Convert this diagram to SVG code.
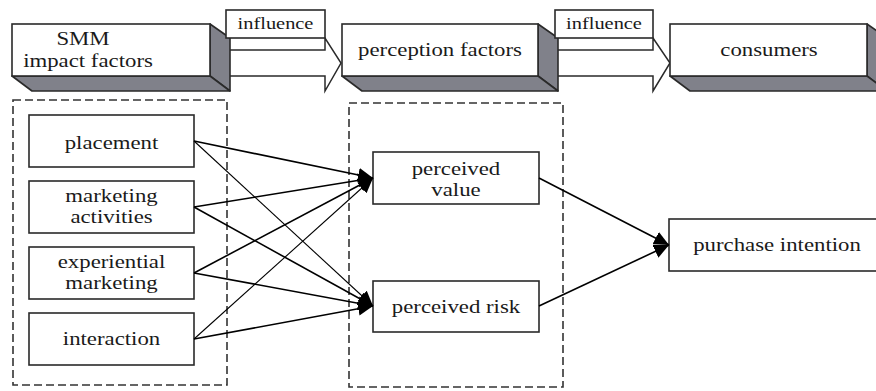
<svg xmlns="http://www.w3.org/2000/svg" width="876" height="391" viewBox="0 0 876 391">
<style>
.t{font-size:19px;fill:#1a1a1a;text-anchor:middle}
.ti{font-size:17px;fill:#1a1a1a;text-anchor:middle}
.box{fill:#fff;stroke:#2a2a2a;stroke-width:1.6}
.side{fill:#80818a;stroke:#2a2a2a;stroke-width:1.6;stroke-linejoin:round}
.arr{fill:#fff;stroke:#2a2a2a;stroke-width:1.5}
.dash{fill:none;stroke:#333;stroke-width:1.6;stroke-dasharray:8 4}
.c{stroke:#000;fill:none;marker-end:url(#ah)}
.k{stroke-width:1.6}
.n{stroke-width:1.1}
</style>
<defs>
<marker id="ah" markerUnits="userSpaceOnUse" markerWidth="16" markerHeight="14" refX="15" refY="7" orient="auto">
<path d="M0,0 L15,7 L0,14 z" fill="#000"/>
</marker>
</defs>
<rect width="876" height="391" fill="#fff"/>

<g id="flow-arrows">
<path class="arr" d="M230,50 L325,50 L325,38 L341,63 L325,91 L325,76 L230,76"/>
<path class="arr" d="M558,50 L653,50 L653,38 L670,63 L653,91 L653,76 L558,76"/>
</g>

<g font-family="Liberation Serif, DejaVu Serif, serif">
<g id="smm">
<polygon class="side" points="210,24 230,38 230,91 210,76"/>
<polygon class="side" points="12,76 210,76 230,91 32,91"/>
<rect class="box" x="12" y="24" width="198" height="52"/>
<text class="t" transform="translate(83,45) scale(1.2,1)">SMM</text>
<text class="t" transform="translate(88,67) scale(1.2,1)">impact factors</text>
</g>

<g id="influence1">
<rect class="box" x="226" y="10" width="99" height="28"/>
<text class="ti" transform="translate(275.5,29) scale(1.2,1)">influence</text>
</g>

<g id="perception">
<polygon class="side" points="538,24 558,38 558,91 538,76"/>
<polygon class="side" points="342,76 538,76 558,91 362,91"/>
<rect class="box" x="342" y="24" width="196" height="52"/>
<text class="t" transform="translate(440,56) scale(1.2,1)">perception factors</text>
</g>

<g id="influence2">
<rect class="box" x="555" y="10" width="98" height="28"/>
<text class="ti" transform="translate(604,29) scale(1.2,1)">influence</text>
</g>

<g id="consumers">
<polygon class="side" points="867,24 887,38 887,91 867,76"/>
<polygon class="side" points="670,76 867,76 887,91 690,91"/>
<rect class="box" x="670" y="24" width="197" height="52"/>
<text class="t" transform="translate(769,56) scale(1.2,1)">consumers</text>
</g>

<g id="group-smm">
<rect class="dash" x="13" y="100" width="214" height="285"/>
</g>
<g id="group-perception">
<rect class="dash" x="349" y="103" width="214" height="284"/>
</g>

<g id="placement">
<rect class="box" x="29" y="115" width="165" height="52"/>
<text class="t" transform="translate(111.5,149) scale(1.2,1)">placement</text>
</g>
<g id="marketing-activities">
<rect class="box" x="29" y="181" width="165" height="52"/>
<text class="t" transform="translate(111.5,202) scale(1.2,1)">marketing</text>
<text class="t" transform="translate(111.5,223) scale(1.2,1)">activities</text>
</g>
<g id="experiential-marketing">
<rect class="box" x="29" y="247" width="165" height="52"/>
<text class="t" transform="translate(111.5,268) scale(1.2,1)">experiential</text>
<text class="t" transform="translate(111.5,289) scale(1.2,1)">marketing</text>
</g>
<g id="interaction">
<rect class="box" x="29" y="313" width="165" height="52"/>
<text class="t" transform="translate(111.5,345) scale(1.2,1)">interaction</text>
</g>

<g id="perceived-value">
<rect class="box" x="373" y="152" width="166" height="52"/>
<text class="t" transform="translate(456,175) scale(1.2,1)">perceived</text>
<text class="t" transform="translate(456,196) scale(1.2,1)">value</text>
</g>
<g id="perceived-risk">
<rect class="box" x="373" y="281" width="166" height="51"/>
<text class="t" transform="translate(456,313) scale(1.2,1)">perceived risk</text>
</g>

<g id="purchase-intention">
<rect class="box" x="669" y="219" width="216" height="52"/>
<text class="t" transform="translate(777,251) scale(1.2,1)">purchase intention</text>
</g>
</g>

<g id="connectors">
<line class="c k" x1="194" y1="141" x2="373" y2="178"/>
<line class="c n" x1="194" y1="141" x2="373" y2="306"/>
<line class="c k" x1="194" y1="207" x2="373" y2="178"/>
<line class="c k" x1="194" y1="207" x2="373" y2="306"/>
<line class="c k" x1="194" y1="273" x2="373" y2="178"/>
<line class="c k" x1="194" y1="273" x2="373" y2="306"/>
<line class="c n" x1="194" y1="339" x2="373" y2="178"/>
<line class="c k" x1="194" y1="339" x2="373" y2="306"/>
<line class="c k" x1="539" y1="178" x2="669" y2="245"/>
<line class="c k" x1="539" y1="306" x2="669" y2="245"/>
</g>
</svg>
